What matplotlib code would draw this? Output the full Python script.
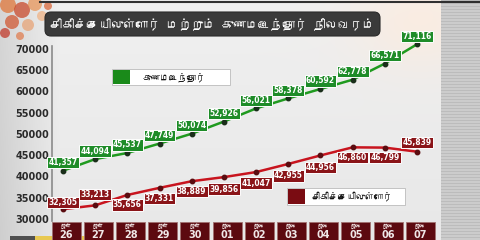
import numpy as np
import matplotlib
matplotlib.use('Agg')
import matplotlib.pyplot as plt
from matplotlib.patches import Rectangle, FancyBboxPatch
from matplotlib import font_manager
from matplotlib.ft2font import FT2Font

# ---------------- data ----------------
months = ['ஜூன்'] * 5 + ['ஜூலை'] * 7
days = ['26', '27', '28', '29', '30', '01', '02', '03', '04', '05', '06', '07']
recovered = [41357, 44094, 45537, 47749, 50074, 52926, 56021, 58378, 60592, 62778, 66571, 71116]
active = [32305, 33213, 35656, 37331, 38889, 39856, 41047, 42955, 44956, 46860, 46799, 45839]
yticks = [30000, 35000, 40000, 45000, 50000, 55000, 60000, 65000, 70000]
title = 'சிகிச்சையிலுள்ளோர் மற்றும் குணமடைந்தோர் நிலவரம்'
legend_recovered = 'குணமடைந்தோர்'
legend_active = 'சிகிச்சையிலுள்ளோர்'

# label offsets in pixels (negative = above the point)
green_off = [-8] * 12
red_off = [-7, -11, 10, 11, 10, 12, 11, 12, 12, 10, 10, -9]

# ---------------- fonts ----------------
tamil_font = None
for f in font_manager.fontManager.ttflist:
    try:
        if 0x0B95 in FT2Font(f.fname).get_charmap():
            tamil_font = f.name
            break
    except Exception:
        pass
fam = [tamil_font, 'DejaVu Sans'] if tamil_font else ['DejaVu Sans']

W, H, DPI = 480, 240, 100
fig = plt.figure(figsize=(W / DPI, H / DPI), dpi=DPI)

# ---------------- background ----------------
bg = fig.add_axes([0, 0, 1, 1], zorder=0)
bg.set_xlim(0, W)
bg.set_ylim(H, 0)
bg.axis('off')
xx, yy = np.meshgrid(np.arange(W), np.arange(H))
base = 0.94 - 0.10 * np.clip((60 - xx) / 60, 0, 1) - 0.03 * (yy / H)
img = np.dstack([base, base, base])
tint = np.exp(-(((xx - 420) / 70.0) ** 2 + ((yy - 20) / 50.0) ** 2))
img[..., 0] += 0.04 * tint
img[..., 1] -= 0.01 * tint
img[..., 2] -= 0.05 * tint
strip = xx >= 441
lines = (yy % 3 == 0)
img[strip] = 0.80
img[strip & lines] = 0.74
img = np.clip(img, 0, 1)
bg.imshow(img, extent=(0, W, H, 0), aspect='auto', interpolation='bilinear')
petals = [(8, 5, 8, '#e07030'), (22, 10, 8, '#c84020'), (35, 4, 7, '#e89050'),
          (12, 22, 7, '#d05028'), (28, 25, 6, '#e8a070'), (42, 16, 5, '#f0b080'),
          (5, 33, 5, '#c03020'), (20, 36, 4, '#e07848'), (48, 6, 4, '#d86030')]
for x0, y0, r, c in petals:
    bg.add_patch(plt.Circle((x0, y0), r, color=c, alpha=0.7, lw=0))
bg.plot([40, 480], [1.5, 1.5], color='#303030', lw=1.5)
bg.add_patch(Rectangle((10, 236), 25, 4, color='#505050', lw=0))
bg.add_patch(Rectangle((35, 236), 60, 4, color='#e8c850', lw=0))

# ---------------- main axes ----------------
ax_l, ax_r, ax_t, ax_b = 52, 440, 40, 221
ax = fig.add_axes([ax_l / W, 1 - ax_b / H, (ax_r - ax_l) / W, (ax_b - ax_t) / H], zorder=2)
ax.patch.set_alpha(0)
pitch = 32.2
ax.set_xlim(-(63 - ax_l) / pitch, 11 + (ax_r - 417) / pitch)
ppu = 170 / 40000
ax.set_ylim(30000 - (ax_b - 219) / ppu, 70000 + (49 - ax_t) / ppu)
for s in ['top', 'right', 'bottom']:
    ax.spines[s].set_visible(False)
ax.spines['left'].set_color('#8a8a8a')
ax.spines['left'].set_linewidth(1.2)
ax.spines['left'].set_bounds(ax.get_ylim()[0], 70600)
ax.set_yticks(yticks)
ax.set_yticklabels([str(v) for v in yticks], fontsize=7, fontweight='bold', color='#2a2a2a')
ax.tick_params(axis='y', length=0, pad=2)
ax.set_xticks([])

x = np.arange(len(days))
ax.plot(x, recovered, color='#1f9a1f', lw=1.8, marker='o', ms=3.2,
        mfc='#1a2e1a', mec='#1a2e1a', zorder=3)
ax.plot(x, active, color='#c8141e', lw=1.8, marker='o', ms=3.2,
        mfc='#5a0c10', mec='#5a0c10', zorder=3)

for i, v in enumerate(recovered):
    ax.annotate(f'{v:,}', (i, v), xytext=(0, -green_off[i] * 0.72), textcoords='offset points',
                ha='center', va='center', fontsize=5.5, fontweight='bold', color='white',
                bbox=dict(boxstyle='square,pad=0.15', fc='#1e8c28', ec='white', lw=0.7),
                zorder=5, annotation_clip=False)
for i, v in enumerate(active):
    ax.annotate(f'{v:,}', (i, v), xytext=(0, -red_off[i] * 0.72), textcoords='offset points',
                ha='center', va='center', fontsize=5.5, fontweight='bold', color='white',
                bbox=dict(boxstyle='square,pad=0.15', fc='#8a1418', ec='white', lw=0.7),
                zorder=5, annotation_clip=False)

# x tick boxes
axh = ax_b - ax_t
tr = ax.get_xaxis_transform()
for i in range(len(days)):
    ax.add_patch(Rectangle((i - 0.45 + 0.1, -18.5 / axh), 0.9, 17.5 / axh,
                           transform=tr, clip_on=False, fc='#5c0a10', ec='#a07070',
                           lw=0.6, zorder=4))
    ax.text(i + 0.1, -5.5 / axh, months[i], transform=tr, ha='center', va='center',
            fontsize=4, color='#e8d8d8', family=fam, zorder=5, clip_on=False)
    ax.text(i + 0.1, -13.5 / axh, days[i], transform=tr, ha='center', va='center',
            fontsize=7, fontweight='bold', color='#f0e8e8', zorder=5, clip_on=False)

# ---------------- overlay: title & legends ----------------
ov = fig.add_axes([0, 0, 1, 1], zorder=6)
ov.set_xlim(0, W)
ov.set_ylim(H, 0)
ov.axis('off')
ov.patch.set_alpha(0)
ov.add_patch(FancyBboxPatch((45, 12), 335, 24, boxstyle='round,pad=0,rounding_size=6',
                            fc='#3a3a3a', ec='#2a2a2a', lw=0.8))
ov.text(212, 24.5, title, ha='center', va='center', fontsize=8.8, fontweight='bold',
        color='white', family=fam)

ov.add_patch(Rectangle((112, 69), 118, 16, fc='white', ec='#bbbbbb', lw=0.6))
ov.add_patch(Rectangle((113, 70), 17, 14, fc='#1a8a1a', lw=0))
ov.text(174, 77, legend_recovered, ha='center', va='center', fontsize=6.5,
        fontweight='bold', color='#111111', family=fam)

ov.add_patch(Rectangle((287, 188), 118, 17, fc='white', ec='#bbbbbb', lw=0.6))
ov.add_patch(Rectangle((288, 189), 17, 15, fc='#7a0c12', lw=0))
ov.text(352, 196.5, legend_active, ha='center', va='center', fontsize=6.5,
        fontweight='bold', color='#111111', family=fam)

fig.savefig('out.png', dpi=DPI)
